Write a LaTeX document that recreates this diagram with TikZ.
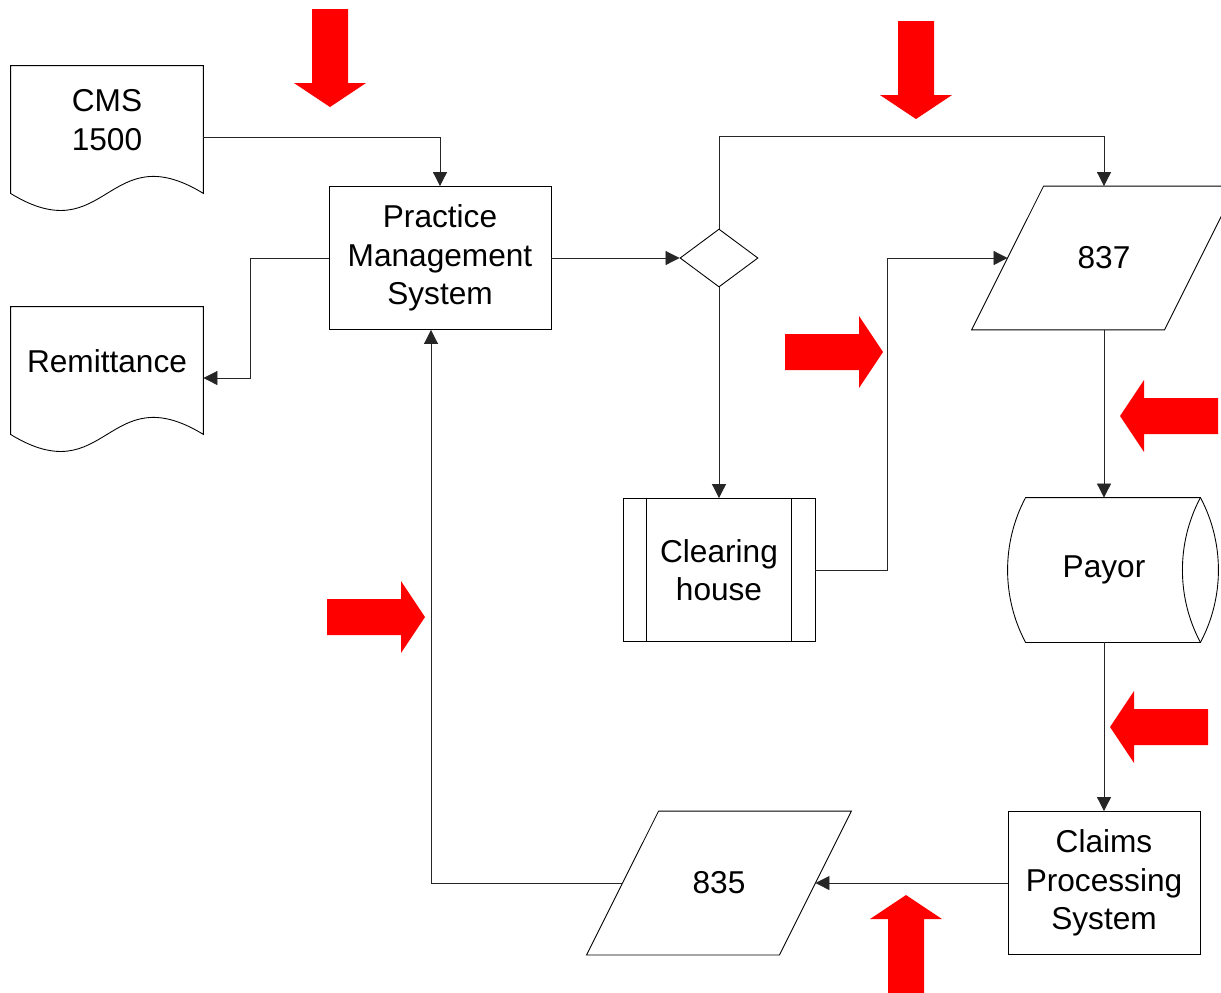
\documentclass[tikz,border=0pt]{standalone}
\usepackage{fontspec}
\setmainfont{Liberation Sans}
\usetikzlibrary{arrows.meta,shapes.geometric,calc}

\tikzset{
  flow/.style={draw=black!85, line width=0.5pt, -{Triangle[length=8pt,width=8pt]}},
  shp/.style={line width=0.5pt, align=center, inner sep=0pt,
    font=\fontsize{18}{21.8}\selectfont},
  box/.style={shp, draw, minimum width=3.84cm, minimum height=2.86cm},
  doc/.style={shp, minimum width=3.84cm, minimum height=2.16cm},
  io/.style={shp, minimum width=3.84cm, minimum height=2.86cm},
  decide/.style={shp, draw, shape=diamond, minimum width=1.56cm, minimum height=1.16cm},
}

\begin{document}
\begin{tikzpicture}[x=0.02cm, y=-0.02cm]
  \useasboundingbox (0,0) rectangle (1221,992);

  % nodes
  \node[doc] (cms) at (107,120) {CMS\\1500};
  \node[doc] (rem) at (107,361) {Remittance};
  \node[box, minimum width=4.44cm] (pms) at (440,258) {Practice\\Management\\System};
  \node[decide] (dia) at (719,258) {};
  \node[io] (p837) at (1104,258) {837};
  \node[box] (ch) at (719,570) {Clearing\\house};
  \node[io, minimum height=2.88cm] (pay) at (1104,570) {Payor};
  \node[box] (cps) at (1104,883) {Claims\\Processing\\System};
  \node[io] (p835) at (719,883) {835};

  % outlines
  \foreach \n in {cms,rem}{
    \draw[line width=0.5pt] ($(\n.south west)+(0,19)$) -- (\n.north west) -- (\n.north east)
      -- ($(\n.south east)+(0,19)$) .. controls ($(\n.south)+(0,-40)$) and ($(\n.south)+(0,78)$) .. cycle;
  }
  \foreach \n in {p837,p835}{
    \draw[line width=0.5pt] ($(\n.south west)+(-36,0)$) -- ($(\n.north west)+(36,0)$)
      -- ($(\n.north east)+(36,0)$) -- ($(\n.south east)+(-36,0)$) -- cycle;
  }
  \draw[line width=0.5pt] ($(ch.north west)+(24,0)$) -- ($(ch.south west)+(24,0)$);
  \draw[line width=0.5pt] ($(ch.north east)+(-24,0)$) -- ($(ch.south east)+(-24,0)$);
  \draw[line width=0.5pt] ($(pay.north west)+(18,0)$) -- (pay.north east)
    .. controls +(24,45) and +(24,-45) .. (pay.south east) -- ($(pay.south west)+(18,0)$)
    .. controls +(-24,-45) and +(-24,45) .. ($(pay.north west)+(18,0)$) -- cycle;
  \draw[line width=0.5pt] (pay.north east) .. controls +(-24,45) and +(-24,-45) .. (pay.south east);

  % connectors
  \draw[flow] ($(cms.east)+(0,17)$) -| (pms.north);
  \draw[flow] (pms.west) -- ++(-78,0) |- ($(rem.east)+(0,17)$);
  \draw[flow] (pms.east) -- (dia.west);
  \draw[flow] (dia.north) -- ++(0,-92) -| (p837.north);
  \draw[flow] (dia.south) -- (ch.north);
  \draw[flow] (ch.east) -- ++(72,0) |- (p837.west);
  \draw[flow] (p837.south) -- (pay.north);
  \draw[flow] (pay.south) -- (cps.north);
  \draw[flow] (cps.west) -- (p835.east);
  \draw[flow] (p835.west) -| ($(pms.south)+(-9,0)$);

  % red markers
  \foreach \x/\y/\a in {330/107/-90, 916/119/-90, 883/352/0, 1120/416/180,
                        425/617/0, 1110/727/180, 906/895/90}{
    \fill[red, shift={(\x,\y)}, rotate=\a] (0,0) -- (-24,-36) -- (-24,-18) -- (-98,-18)
      -- (-98,18) -- (-24,18) -- (-24,36) -- cycle;
  }

\end{tikzpicture}
\end{document}
